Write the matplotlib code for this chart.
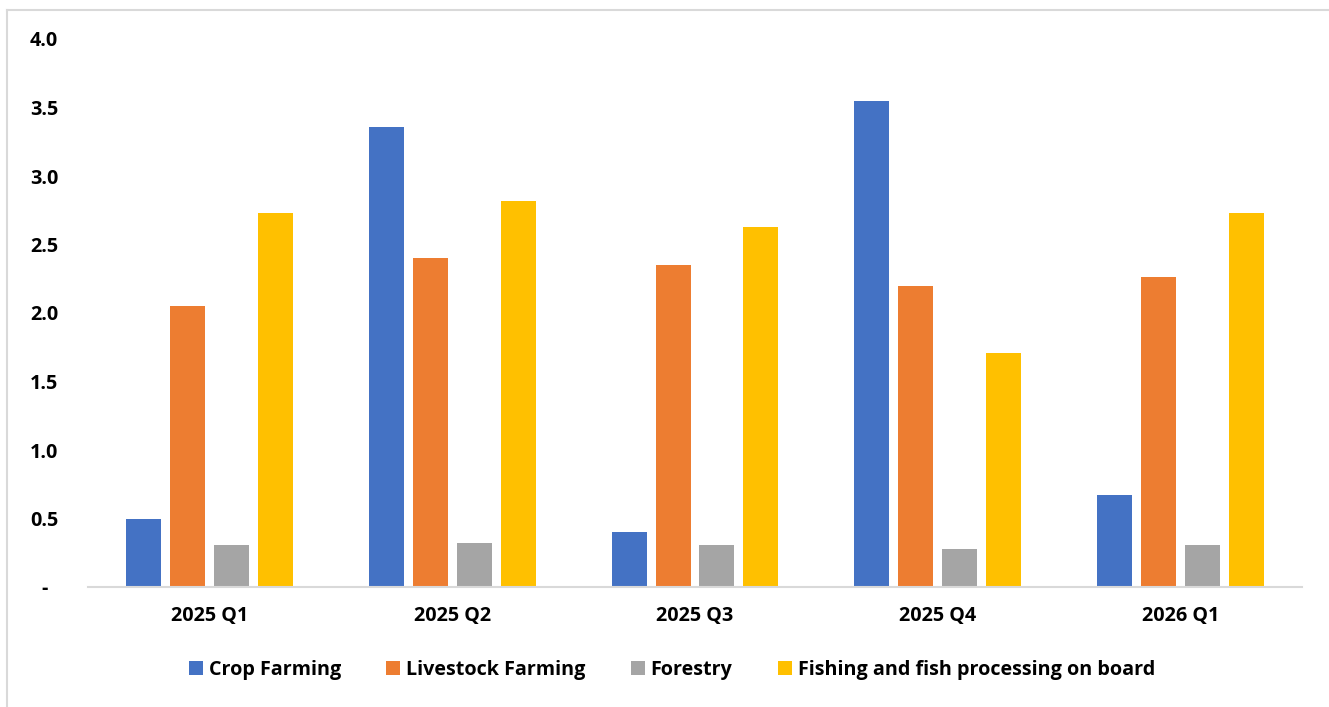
import matplotlib
matplotlib.use("Agg")
import matplotlib.pyplot as plt
from matplotlib.lines import Line2D
from matplotlib.patches import Patch
import numpy as np

categories = ["2025 Q1", "2025 Q2", "2025 Q3", "2025 Q4", "2026 Q1"]
series_names = ["Crop Farming", "Livestock Farming", "Forestry",
                "Fishing and fish processing on board"]
crop = [0.50, 3.36, 0.40, 3.55, 0.67]
livestock = [2.05, 2.40, 2.35, 2.20, 2.26]
forestry = [0.31, 0.32, 0.31, 0.28, 0.31]
fishing = [2.73, 2.82, 2.63, 1.71, 2.73]
yticks = [0, 0.5, 1.0, 1.5, 2.0, 2.5, 3.0, 3.5, 4.0]
ytick_labels = ["-", "0.5", "1.0", "1.5", "2.0", "2.5", "3.0", "3.5", "4.0"]

colors = ["#4472C4", "#ED7D31", "#A5A5A5", "#FFC000"]
plt.rcParams['font.family'] = ['Open Sans', 'DejaVu Sans']

fig = plt.figure(figsize=(13.29, 7.07), dpi=100)
ax = fig.add_axes([88/1329, 1-587/707, (1302-88)/1329, (587-39)/707])

x = np.arange(len(categories))
width = 0.144
stride = 0.181
data = [crop, livestock, forestry, fishing]
for i, (vals, c) in enumerate(zip(data, colors)):
    ax.bar(x + (i - 1.5) * stride, vals, width, color=c, label=series_names[i])

fs = 14.2
ax.set_xlim(-0.5, len(categories) - 0.5)
ax.set_ylim(0, 4.0)
ax.set_yticks(yticks)
ax.set_yticklabels(ytick_labels, fontsize=fs, fontweight='bold')
for lbl in ax.get_yticklabels():
    lbl.set_horizontalalignment('center')
ax.tick_params(axis='y', length=0, pad=31.5)
ax.set_xticks(x)
ax.set_xticklabels(categories, fontsize=fs, fontweight='bold')
ax.tick_params(axis='x', length=0, pad=14)
for s in ['top', 'right', 'left']:
    ax.spines[s].set_visible(False)
ax.spines['bottom'].set_color('#D9D9D9')
ax.spines['bottom'].set_linewidth(1.5)

handles = [Patch(facecolor=c, edgecolor='none') for c in colors]
fig.legend(handles, series_names, loc='center', bbox_to_anchor=(672/1329, 1-670/707),
           ncol=4, frameon=False, prop={'size': fs, 'weight': 'bold'},
           handlelength=0.7, handleheight=0.7, handletextpad=0.3, columnspacing=2.3)

fig.add_artist(Line2D([7/1329, 1], [1-10/707, 1-10/707], color='#D9D9D9', lw=1.5))
fig.add_artist(Line2D([7/1329, 7/1329], [0, 1-10/707], color='#D9D9D9', lw=1.5))

fig.savefig("out.png", dpi=100)
